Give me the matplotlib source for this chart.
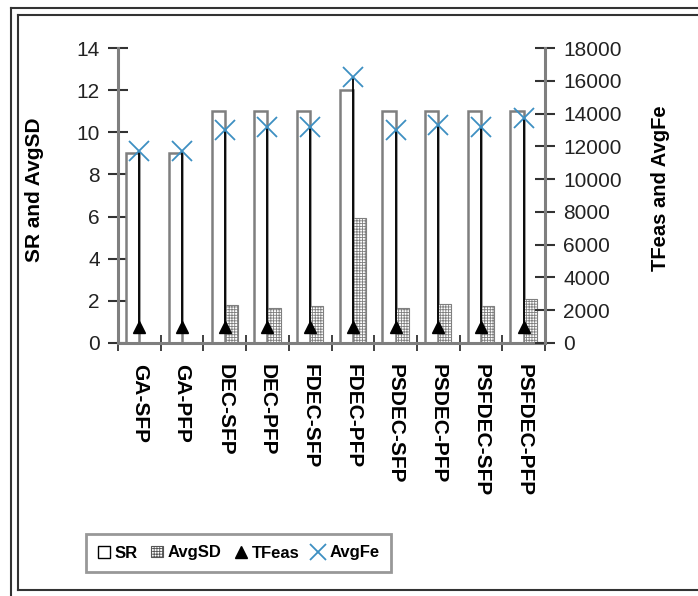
import numpy as np
import matplotlib.pyplot as plt
from matplotlib.patches import Patch
from matplotlib.lines import Line2D

plt.rcParams['font.family'] = ['Liberation Sans', 'DejaVu Sans']
plt.rcParams['hatch.color'] = '#555555'
plt.rcParams['hatch.linewidth'] = 0.6

# Results per algorithm variant
methods = ['GA-SFP', 'GA-PFP', 'DEC-SFP', 'DEC-PFP', 'FDEC-SFP', 'FDEC-PFP',
           'PSDEC-SFP', 'PSDEC-PFP', 'PSFDEC-SFP', 'PSFDEC-PFP']
sr = [9, 9, 11, 11, 11, 12, 11, 11, 11, 11]
avg_sd = [0, 0, 1.8, 1.65, 1.75, 5.95, 1.65, 1.85, 1.75, 2.1]
tfeas = [1000, 1000, 1000, 1000, 1000, 1000, 1000, 1000, 1000, 1000]
avg_fe = [11700, 11700, 13000, 13200, 13150, 16250, 13000, 13300, 13200, 13750]

grey = '#7f7f7f'
x = np.arange(len(methods))
w = 0.31

fig = plt.figure(figsize=(6.98, 5.96), dpi=100)
ax = fig.add_axes([118 / 698, 1 - 343 / 596, (545 - 118) / 698, (343 - 48) / 596])
ax2 = ax.twinx()

# bars on the left axis
ax.bar(x - w / 2, sr, width=w, facecolor='white', edgecolor=grey, linewidth=1.8, zorder=2)
ax.bar(x + w / 2, avg_sd, width=w, facecolor='white', edgecolor=grey, linewidth=0.8,
       hatch='++++++', zorder=2)

# high-low lines and markers on the right axis
ax2.vlines(x, tfeas, avg_fe, color='black', linewidth=1.3, zorder=3)
ax2.plot(x, tfeas, linestyle='none', marker='^', markersize=8, color='black', zorder=4)
ax2.plot(x, avg_fe, linestyle='none', marker='x', markersize=14, markeredgewidth=1.3,
         color='#3d8fc2', zorder=5)

ax.set_xlim(-0.5, len(methods) - 0.5)
ax.set_ylim(0, 14)
ax2.set_ylim(0, 18000)
ax.set_yticks(np.arange(0, 15, 2))
ax2.set_yticks(np.arange(0, 18001, 2000))

ax.set_xticks(x)
ax.set_xticklabels(methods, rotation=270, fontsize=15, fontweight='bold', va='top')
ax.set_xticks(np.arange(-0.5, len(methods)), minor=True)
ax.tick_params(axis='x', which='major', length=0, pad=15)
ax.tick_params(axis='x', which='minor', direction='inout', length=12, width=1.3, color='#333333')

for a in (ax, ax2):
    a.patch.set_visible(False)
    a.spines['top'].set_visible(False)
    for s in ('left', 'right', 'bottom'):
        a.spines[s].set_color(grey)
        a.spines[s].set_linewidth(2.2)
    a.tick_params(axis='y', direction='inout', length=14, width=1.5, color='#333333',
                  labelsize=15, labelcolor='#222222', pad=6)
ax.spines['right'].set_visible(False)
ax2.spines['left'].set_visible(False)
ax2.spines['bottom'].set_visible(False)

fig.text(35 / 698, 1 - 190 / 596, 'SR and AvgSD', rotation=90, ha='center', va='center',
         fontsize=15, fontweight='bold')
fig.text(660 / 698, 1 - 188 / 596, 'TFeas and AvgFe', rotation=90, ha='center', va='center',
         fontsize=14.5, fontweight='bold')

handles = [
    Line2D([], [], linestyle='none', marker='s', markersize=8, markerfacecolor='white',
           markeredgecolor='black', markeredgewidth=1),
    Patch(facecolor='white', edgecolor='#555555', linewidth=0.8, hatch='++++++'),
    Line2D([], [], linestyle='none', marker='^', markersize=8, color='black'),
    Line2D([], [], linestyle='none', marker='x', markersize=12, markeredgewidth=1.3,
           color='#3d8fc2'),
]
leg = fig.legend(handles, ['SR', 'AvgSD', 'TFeas', 'AvgFe'], ncol=4,
                 loc='center', bbox_to_anchor=(238.5 / 698, 1 - 553 / 596),
                 prop={'weight': 'bold', 'size': 12}, fancybox=False,
                 handlelength=0.7, handleheight=0.6, handletextpad=0.3,
                 columnspacing=0.8, borderpad=0.7, borderaxespad=0, frameon=True)
leg.get_frame().set_edgecolor(grey)
leg.get_frame().set_linewidth(2)

# double frame around the figure
W, H = 698, 596
for x0, y0, y1 in ((11, 8, 600), (18, 15, 590)):
    fig.add_artist(Line2D([x0 / W, x0 / W], [1 - y0 / H, 1 - y1 / H], color='#333333', linewidth=1.5))
    fig.add_artist(Line2D([x0 / W, 1.01], [1 - y0 / H, 1 - y0 / H], color='#333333', linewidth=1.5))
fig.add_artist(Line2D([18 / W, 1.01], [1 - 590 / H, 1 - 590 / H], color='#333333', linewidth=1.5))

fig.savefig('out.png', dpi=100)
